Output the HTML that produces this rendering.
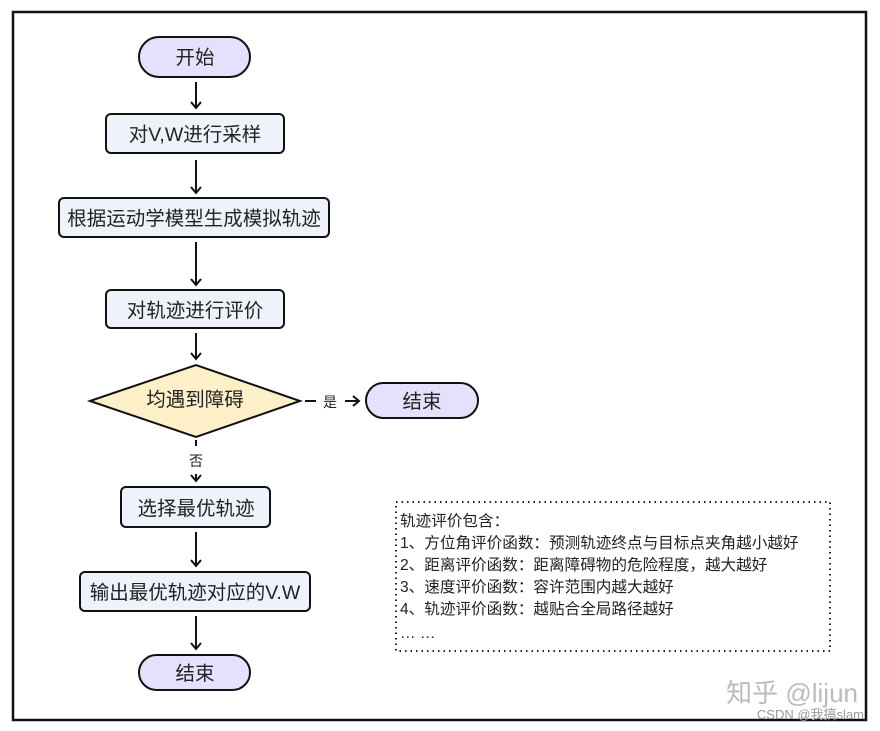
<!DOCTYPE html>
<html><head><meta charset="utf-8"><style>
body{margin:0;width:880px;height:731px;background:#fff;overflow:hidden;font-family:"Liberation Sans","Noto Sans CJK SC",sans-serif}
</style></head><body>
<svg width="880" height="731" xmlns="http://www.w3.org/2000/svg" style="position:absolute;left:0;top:0">
<defs><marker id="a" markerWidth="12" markerHeight="12" refX="6" refY="6" orient="auto" markerUnits="userSpaceOnUse"><path d="M1,1 L7,6 L1,11" fill="none" stroke="#111" stroke-width="2"/></marker></defs>
<rect x="13" y="12" width="853" height="708" fill="#fff" stroke="#111" stroke-width="2.5"/>
<g stroke="#111" stroke-width="2">
<rect x="139" y="37" width="111" height="40" rx="20" fill="#e5e0fb"/>
<rect x="106" y="114" width="178" height="39" rx="5" fill="#eef2fb"/>
<rect x="59" y="198" width="270" height="39" rx="5" fill="#eef2fb"/>
<rect x="106" y="290" width="178" height="38" rx="5" fill="#eef2fb"/>
<polygon points="90,401 196,365 300,401 196,437" fill="#fdefc8"/>
<rect x="366" y="383" width="112" height="35" rx="17.5" fill="#e5e0fb"/>
<rect x="121" y="487" width="149" height="40" rx="5" fill="#eef2fb"/>
<rect x="80" y="572" width="230" height="39" rx="5" fill="#eef2fb"/>
<rect x="139" y="655" width="111" height="35" rx="17.5" fill="#e5e0fb"/>
<line x1="196" y1="82" x2="196" y2="107" marker-end="url(#a)"/>
<line x1="196" y1="160" x2="196" y2="192" marker-end="url(#a)"/>
<line x1="196" y1="242" x2="196" y2="284" marker-end="url(#a)"/>
<line x1="196" y1="333" x2="196" y2="358" marker-end="url(#a)"/>
<line x1="305" y1="401" x2="316" y2="401"/>
<line x1="345" y1="401" x2="358" y2="401" marker-end="url(#a)"/>
<line x1="196" y1="440" x2="196" y2="446"/>
<line x1="196" y1="474" x2="196" y2="480" marker-end="url(#a)"/>
<line x1="196" y1="532" x2="196" y2="565" marker-end="url(#a)"/>
<line x1="196" y1="616" x2="196" y2="648" marker-end="url(#a)"/>
</g>
<rect x="396" y="502" width="434" height="149" fill="none" stroke="#222" stroke-width="2" stroke-dasharray="1.5,4"/>
<g font-size="19.5" text-anchor="middle" fill="#222" font-family="Liberation Sans,Noto Sans CJK SC,sans-serif">
<text x="195" y="64">开始</text>
<text x="195" y="141">对V,W进行采样</text>
<text x="194" y="225">根据运动学模型生成模拟轨迹</text>
<text x="195" y="317">对轨迹进行评价</text>
<text x="195" y="406">均遇到障碍</text>
<text x="422" y="408">结束</text>
<text x="196" y="515">选择最优轨迹</text>
<text x="195" y="599">输出最优轨迹对应的V.W</text>
<text x="195" y="680">结束</text>
<text x="330" y="407" font-size="14">是</text>
<text x="196" y="466" font-size="14">否</text>
</g>
<g font-size="15.6" fill="#222" font-family="Liberation Sans,Noto Sans CJK SC,sans-serif">
<text x="400" y="526">轨迹评价包含：</text>
<text x="400" y="548">1、方位角评价函数：预测轨迹终点与目标点夹角越小越好</text>
<text x="400" y="570">2、距离评价函数：距离障碍物的危险程度，越大越好</text>
<text x="400" y="592">3、速度评价函数：容许范围内越大越好</text>
<text x="400" y="614">4、轨迹评价函数：越贴合全局路径越好</text>
<text x="400" y="638">… …</text>
</g>
<text x="858" y="702" font-size="26" fill="#bbb" text-anchor="end" font-family="Liberation Sans,Noto Sans CJK SC,sans-serif">知乎 @lijun</text>
<text x="864" y="719" font-size="13" fill="#999" text-anchor="end" font-family="Liberation Sans,Noto Sans CJK SC,sans-serif">CSDN @我搞slam</text>
</svg>
</body></html>
